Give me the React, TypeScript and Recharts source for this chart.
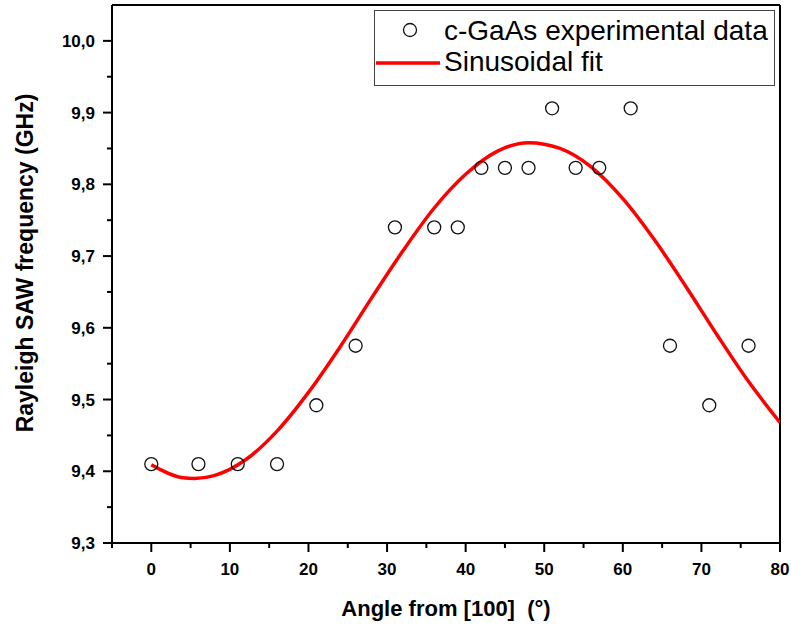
import React from 'react';
import {
  ComposedChart,
  XAxis,
  YAxis,
  Scatter,
  Line,
  Legend,
  ReferenceLine,
  Label,
} from 'recharts';

// Experimental data: angle from [100] (deg) and Rayleigh SAW frequency (GHz)
const expAngles = [0, 6, 11, 16, 21, 26, 31, 36, 39, 42, 45, 48, 51, 54, 57, 61, 66, 71, 76];
const expFreqs = [
  9.41, 9.41, 9.41, 9.41, 9.492, 9.575, 9.74, 9.74, 9.74, 9.823, 9.823, 9.823, 9.906, 9.823,
  9.823, 9.906, 9.575, 9.492, 9.575,
];

// Sinusoidal fit curve
const fitAngles = [0, 4, 5.5, 8, 12, 16, 20, 24, 28, 32, 36, 40, 44, 48, 52, 56, 60, 64, 68, 72, 76, 80];
const fitFreqs = [
  9.409, 9.391, 9.39, 9.394, 9.416, 9.456, 9.51, 9.573, 9.641, 9.707, 9.767, 9.814, 9.846,
  9.858, 9.85, 9.824, 9.78, 9.723, 9.658, 9.59, 9.525, 9.468,
];

const xTicks = [-5, 0, 5, 10, 15, 20, 25, 30, 35, 40, 45, 50, 55, 60, 65, 70, 75, 80];
const yTicks = [9.3, 9.35, 9.4, 9.45, 9.5, 9.55, 9.6, 9.65, 9.7, 9.75, 9.8, 9.85, 9.9, 9.95, 10.0];

const seriesNames = ['c-GaAs experimental data', 'Sinusoidal fit'];
const xLabel = 'Angle from [100]  (°)';
const yLabel = 'Rayleigh SAW frequency (GHz)';

const expData = expAngles.map((x, i) => ({ x, y: expFreqs[i] }));
const fitData = fitAngles.map((x, i) => ({ x, y: fitFreqs[i] }));

const FONT = '"Liberation Sans", Arial, Helvetica, sans-serif';

const XTick = (props: any) => {
  const { x, y, payload } = props;
  const v = payload.value as number;
  const major = Math.abs(v % 10) < 1e-6;
  return (
    <g>
      <line x1={x} y1={y} x2={x} y2={y + (major ? 9 : 5)} stroke="#000" strokeWidth={2} />
      {major && v >= 0 ? (
        <text x={x} y={y + 32} textAnchor="middle" fontFamily={FONT} fontWeight="bold" fontSize={17} fill="#000">
          {String(v)}
        </text>
      ) : null}
    </g>
  );
};

const YTick = (props: any) => {
  const { x, y, payload } = props;
  const v = payload.value as number;
  const major = Math.abs(v * 10 - Math.round(v * 10)) < 1e-6;
  return (
    <g>
      <line x1={x} y1={y} x2={x - (major ? 9 : 5)} y2={y} stroke="#000" strokeWidth={2} />
      {major ? (
        <text x={x - 17} y={y + 6} textAnchor="end" fontFamily={FONT} fontWeight="bold" fontSize={17} fill="#000">
          {v.toFixed(1).replace('.', ',')}
        </text>
      ) : null}
    </g>
  );
};

const LegendBox = () => (
  <svg width={402} height={77} style={{ display: 'block' }}>
    <rect x={0.5} y={0.5} width={400} height={75} fill="#fff" stroke="#444" strokeWidth={1} />
    <circle cx={36} cy={20} r={6.5} fill="none" stroke="#111" strokeWidth={1.3} />
    <text x={70} y={30} fontFamily={FONT} fontSize={28} fill="#000">
      {seriesNames[0]}
    </text>
    <line x1={2} y1={53} x2={66} y2={53} stroke="#ff0000" strokeWidth={3.5} />
    <text x={70} y={61} fontFamily={FONT} fontSize={28} fill="#000">
      {seriesNames[1]}
    </text>
  </svg>
);

const Circle = (props: any) => {
  const { cx, cy } = props;
  return <circle cx={cx} cy={cy} r={6.5} fill="none" stroke="#111" strokeWidth={1.3} />;
};

export default function App() {
  return (
    <div style={{ position: 'absolute', left: 0, top: 0, width: 791, height: 632, background: '#fff' }}>
      <ComposedChart
        width={791}
        height={632}
        margin={{ top: 5, right: 11, left: 0, bottom: 0 }}
        style={{ background: '#fff' }}
      >
        <XAxis
          dataKey="x"
          type="number"
          domain={[-5, 80]}
          ticks={xTicks}
          interval={0}
          allowDataOverflow
          height={89}
          tickSize={0}
          tickMargin={0}
          tickLine={false}
          axisLine={{ stroke: '#000', strokeWidth: 2 }}
          tick={<XTick />}
        >
          <Label
            content={() => (
              <text x={446} y={616} textAnchor="middle" fontFamily={FONT} fontWeight="bold" fontSize={22} fill="#000" style={{ whiteSpace: 'pre' }}>
                {xLabel}
              </text>
            )}
          />
        </XAxis>
        <YAxis
          dataKey="y"
          type="number"
          domain={[9.3, 10.05]}
          ticks={yTicks}
          interval={0}
          allowDataOverflow
          width={112}
          tickSize={0}
          tickMargin={0}
          tickLine={false}
          axisLine={{ stroke: '#000', strokeWidth: 2 }}
          tick={<YTick />}
        >
          <Label
            content={() => (
              <text
                x={0}
                y={0}
                transform="translate(33,263) rotate(-90)"
                textAnchor="middle"
                fontFamily={FONT}
                fontWeight="bold"
                fontSize={23}
                fill="#000"
              >
                {yLabel}
              </text>
            )}
          />
        </YAxis>
        <ReferenceLine y={10.05} stroke="#000" strokeWidth={2} />
        <ReferenceLine x={80} stroke="#000" strokeWidth={2} />
        <Line
          data={fitData}
          dataKey="y"
          type="monotone"
          stroke="#ff0000"
          strokeWidth={3.5}
          dot={false}
          activeDot={false}
          isAnimationActive={false}
          name={seriesNames[1]}
        />
        <Scatter
          data={expData}
          dataKey="y"
          shape={<Circle />}
          isAnimationActive={false}
          name={seriesNames[0]}
        />
        <Legend
          layout="horizontal"
          verticalAlign="middle"
          align="center"
          content={() => <LegendBox />}
          wrapperStyle={{ position: 'absolute', left: 374, top: 10, width: 402, height: 77 }}
        />
      </ComposedChart>
    </div>
  );
}
